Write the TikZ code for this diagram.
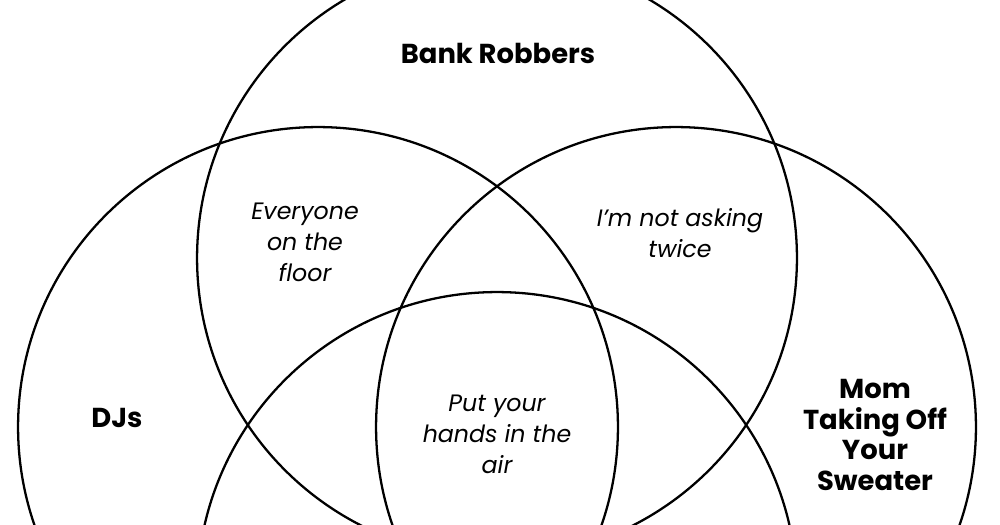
\documentclass[tikz,border=0pt]{standalone}
\usepackage{fontspec}
\setmainfont{Poppins}
\usetikzlibrary{positioning}
\tikzset{
	venn/.style={circle, draw=black, line width=1.3pt, minimum size=12cm, inner sep=0pt},
	setname/.style={align=center, font=\fontsize{15.6}{17.6}\selectfont\bfseries},
	overlap/.style={align=center, font=\fontsize{13.5}{17.6}\selectfont\itshape},
}
\begin{document}
\begin{tikzpicture}[x=0.02cm, y=-0.02cm]
	\clip (0,0) rectangle (1000,524);
	% the four sets
	\node[venn] (robbers) at (497,258) {};
	\node[venn] (djs) at (318,427) {};
	\node[venn] (mom) at (676,427) {};
	\node[venn] (hands) at (497,592) {};
	% set names
	\node[setname] (robbersname) at (498,53) {Bank Robbers};
	\node[setname] (djsname) at (117,418) {DJs};
	\node[setname] (momname) at (875,435) {Mom\\Taking Off\\Your\\Sweater};
	% overlaps
	\node[overlap] (floor) at (305,242) {Everyone\\on the\\floor};
	\node[overlap] (twice) at (680,233) {I’m not asking\\twice};
	\node[overlap] (air) at (497,434) {Put your\\hands in the\\air};
\end{tikzpicture}
\end{document}
